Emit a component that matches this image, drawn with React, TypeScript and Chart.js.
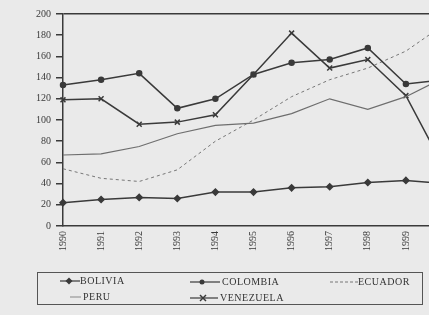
import React, { useEffect, useRef } from "react";
import { Chart, registerables } from "chart.js";

Chart.register(...registerables);

const years = ["1990", "1991", "1992", "1993", "1994", "1995", "1996", "1997", "1998", "1999", "2000"];
const bolivia = [22, 25, 27, 26, 32, 32, 36, 37, 41, 43, 40];
const colombia = [133, 138, 144, 111, 120, 143, 154, 157, 168, 134, 138];
const ecuador = [54, 45, 42, 53, 80, 100, 122, 138, 149, 165, 190];
const peru = [67, 68, 75, 87, 95, 97, 106, 120, 110, 122, 140];
const venezuela = [119, 120, 96, 98, 105, 143, 182, 149, 157, 123, 55];
const yTicks = [0, 20, 40, 60, 80, 100, 120, 140, 160, 180, 200];

const INK = "#3a3a3a";
const FONT = "'Liberation Serif', 'DejaVu Serif', serif";

export default function App() {
  const ref = useRef<HTMLCanvasElement | null>(null);

  useEffect(() => {
    document.body.style.margin = "0";
    const ctx = ref.current!.getContext("2d")!;
    const chart = new Chart(ctx, {
      type: "line",
      data: {
        labels: years,
        datasets: [
          {
            label: "BOLIVIA",
            data: bolivia,
            borderColor: INK,
            backgroundColor: INK,
            borderWidth: 1.5,
            pointStyle: "rectRot",
            pointRadius: 3,
            tension: 0,
          },
          {
            label: "COLOMBIA",
            data: colombia,
            borderColor: INK,
            backgroundColor: INK,
            borderWidth: 1.5,
            pointStyle: "circle",
            pointRadius: 2.5,
            tension: 0,
          },
          {
            label: "ECUADOR",
            data: ecuador,
            borderColor: "#777",
            backgroundColor: "#777",
            borderWidth: 1,
            borderDash: [3, 3],
            pointRadius: 0,
            tension: 0,
          },
          {
            label: "PERU",
            data: peru,
            borderColor: "#6e6e6e",
            backgroundColor: "#6e6e6e",
            borderWidth: 1.2,
            pointRadius: 0,
            tension: 0,
          },
          {
            label: "VENEZUELA",
            data: venezuela,
            borderColor: INK,
            backgroundColor: INK,
            borderWidth: 1.5,
            pointStyle: "crossRot",
            pointRadius: 3.5,
            pointBorderWidth: 1.5,
            tension: 0,
          },
        ],
      },
      options: {
        animation: false,
        responsive: true,
        maintainAspectRatio: false,
        layout: { padding: { left: 31, top: 14, right: 0, bottom: 0 } },
        plugins: { legend: { display: false }, tooltip: { enabled: false } },
        scales: {
          x: {
            offset: false,
            grid: { display: false, drawTicks: false },
            border: { display: true, color: INK, width: 1.5 },
            ticks: {
              color: INK,
              font: { family: FONT, size: 10 },
              minRotation: 90,
              maxRotation: 90,
              padding: 5,
              autoSkip: false,
            },
          },
          y: {
            min: 0,
            max: 200,
            afterBuildTicks: (scale: any) => {
              scale.ticks = yTicks.map((v) => ({ value: v }));
            },
            grid: {
              drawOnChartArea: true,
              color: (c: any) => (c.tick && c.tick.value === 200 ? INK : "rgba(0,0,0,0)"),
              tickColor: INK,
              tickLength: 7,
              lineWidth: 1.5,
            },
            border: { display: true, color: INK, width: 1.5 },
            ticks: {
              color: INK,
              font: { family: FONT, size: 10 },
              padding: 5,
            },
          },
        },
      },
    });
    return () => chart.destroy();
  }, []);

  const txt: React.CSSProperties = {
    position: "absolute",
    fontFamily: FONT,
    fontSize: 10,
    letterSpacing: 0.5,
    color: "#333",
    lineHeight: "10px",
    whiteSpace: "nowrap",
  };

  return (
    <div
      style={{
        position: "relative",
        width: 429,
        height: 315,
        overflow: "hidden",
        background: "#eaeaea",
      }}
    >
      <div style={{ position: "absolute", left: 0, top: 0, width: 461, height: 256 }}>
        <canvas ref={ref} />
      </div>
      <div
        style={{
          position: "absolute",
          left: 37,
          top: 272,
          width: 386,
          height: 33,
          border: "1px solid #555",
          boxSizing: "border-box",
        }}
      />
      <svg width={429} height={315} style={{ position: "absolute", left: 0, top: 0 }}>
        <line x1={60} y1={281} x2={80} y2={281} stroke={INK} strokeWidth={1.2} />
        <rect x={66.5} y={278.5} width={5} height={5} fill={INK} transform="rotate(45 69 281)" />
        <line x1={190} y1={282} x2={220} y2={282} stroke={INK} strokeWidth={1.2} />
        <circle cx={202} cy={282} r={2.5} fill={INK} />
        <line x1={330} y1={282} x2={358} y2={282} stroke="#777" strokeWidth={1} strokeDasharray="3 2" />
        <line x1={70} y1={297} x2={81} y2={297} stroke="#888" strokeWidth={1} />
        <line x1={190} y1={298} x2={218} y2={298} stroke={INK} strokeWidth={1.2} />
        <line x1={200} y1={295} x2={206} y2={301} stroke={INK} strokeWidth={1.5} />
        <line x1={206} y1={295} x2={200} y2={301} stroke={INK} strokeWidth={1.5} />
      </svg>
      <div style={{ ...txt, left: 80, top: 276 }}>BOLIVIA</div>
      <div style={{ ...txt, left: 222, top: 277 }}>COLOMBIA</div>
      <div style={{ ...txt, left: 358, top: 277 }}>ECUADOR</div>
      <div style={{ ...txt, left: 83, top: 292 }}>PERU</div>
      <div style={{ ...txt, left: 220, top: 293 }}>VENEZUELA</div>
    </div>
  );
}
